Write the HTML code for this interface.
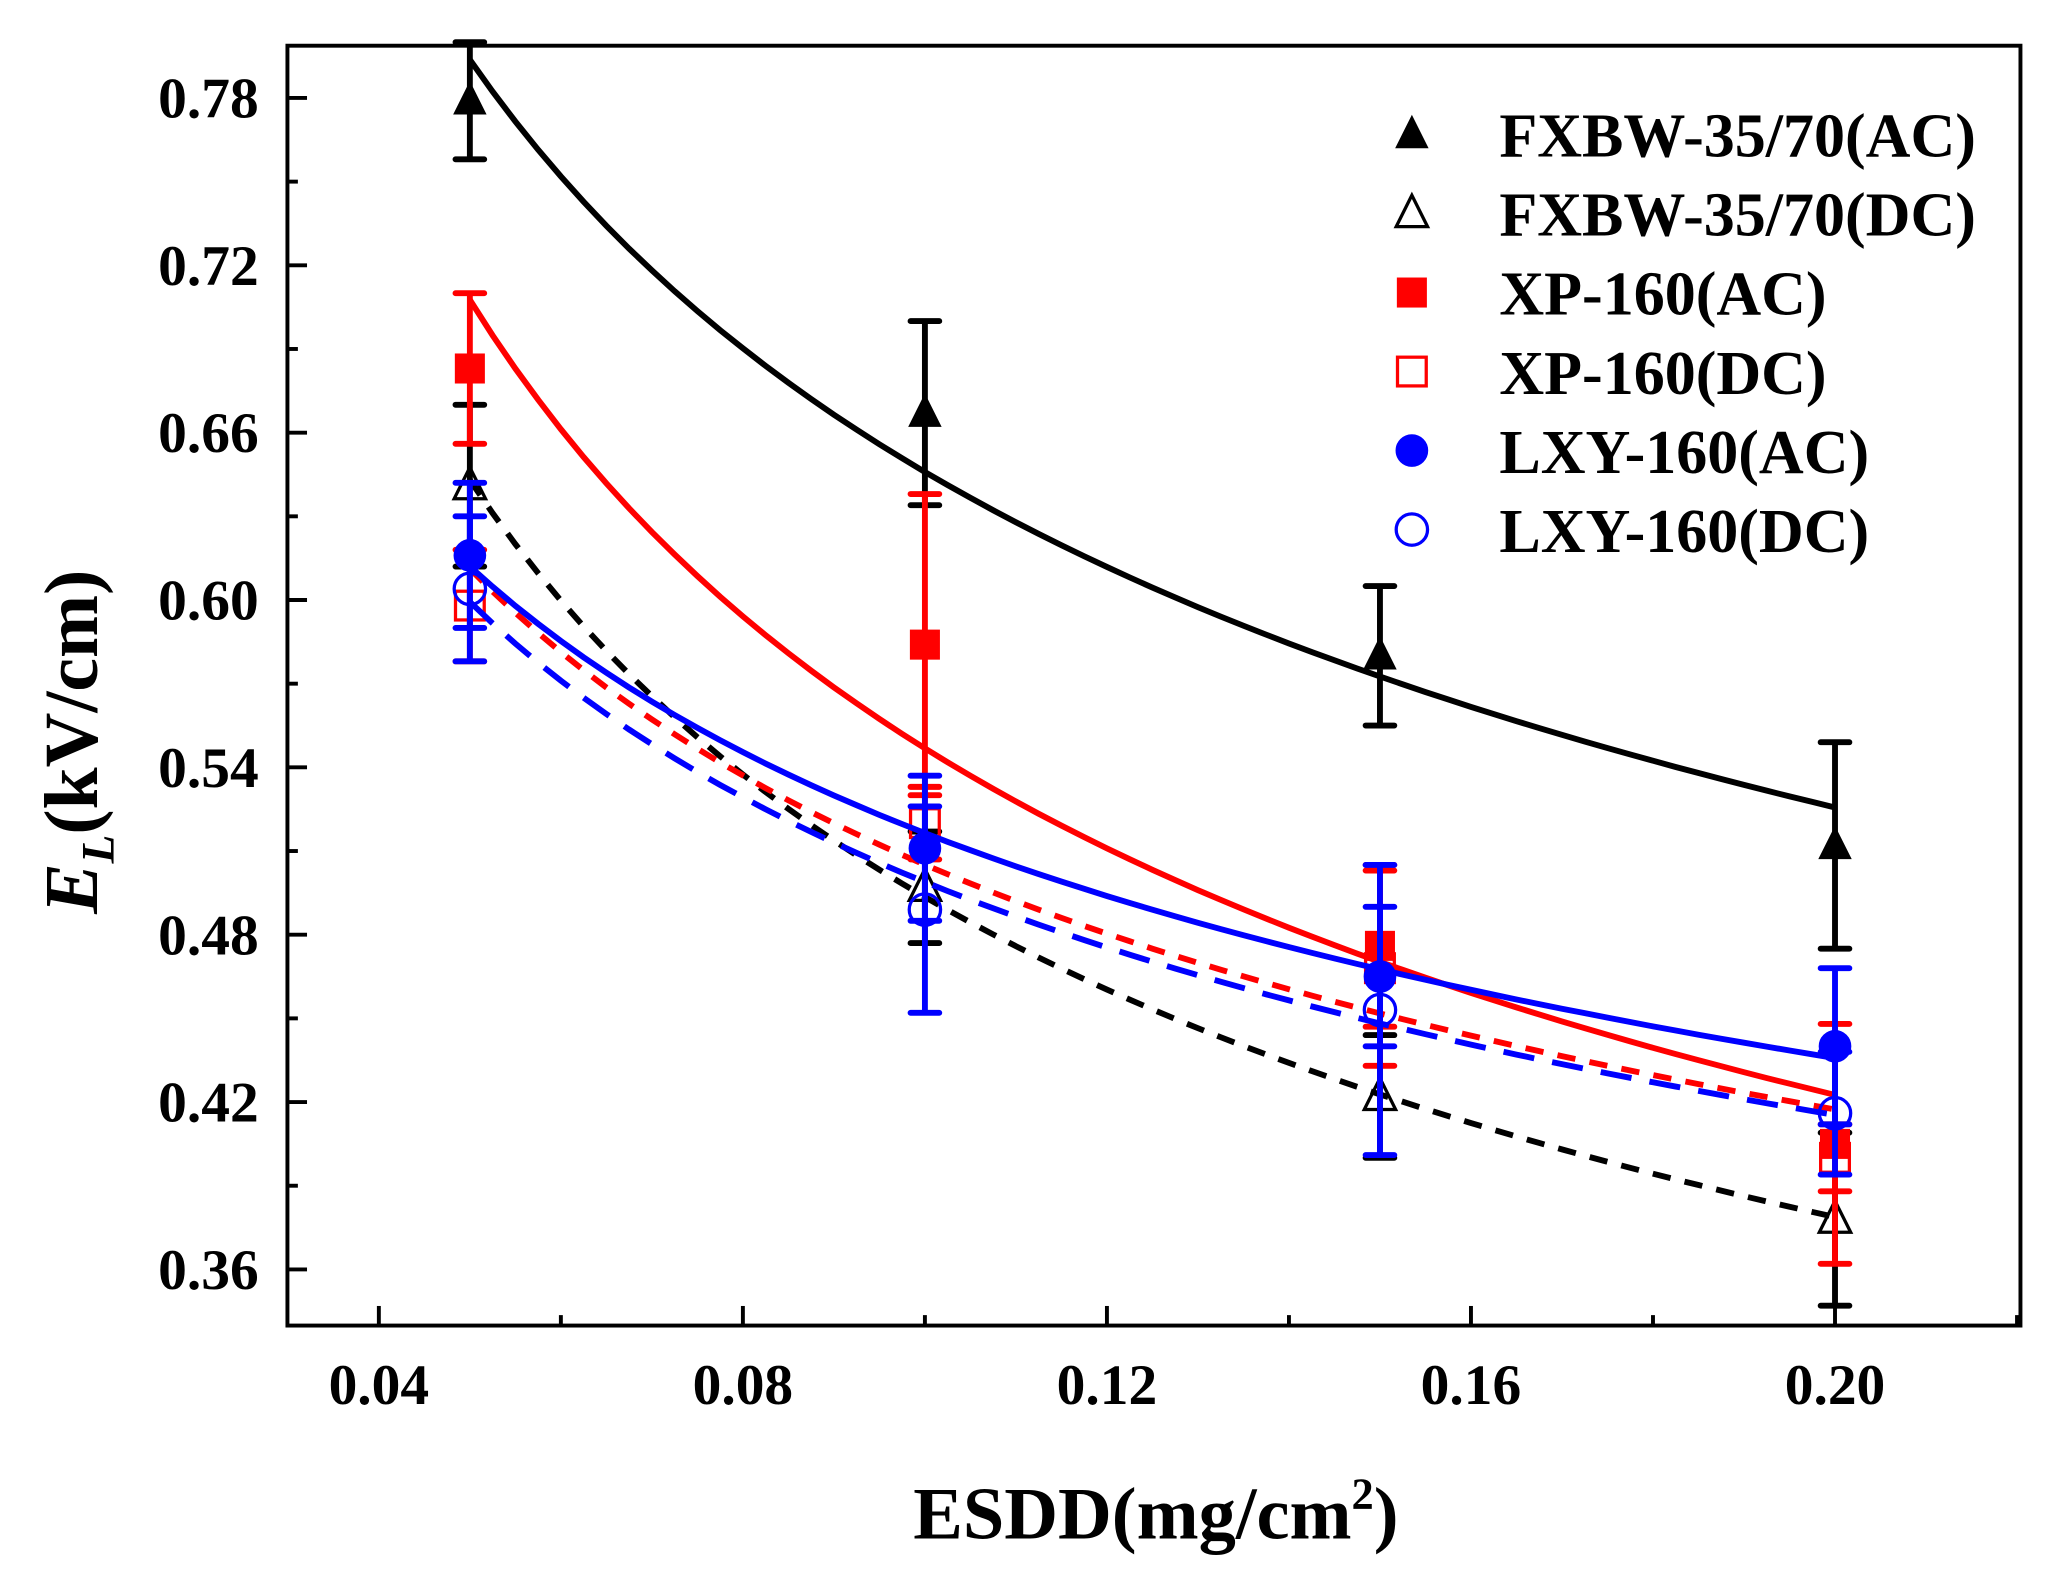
<!DOCTYPE html>
<html><head><meta charset="utf-8"><style>
html,body{margin:0;padding:0;background:#fff;}
svg{display:block;}
text{font-family:"Liberation Serif",serif;font-weight:bold;}
</style></head><body>
<svg id="chart" width="2048" height="1575" viewBox="0 0 1568 1206" xmlns="http://www.w3.org/2000/svg">
<rect x="0" y="0" width="1568" height="1206" fill="#fff"/>
<g id="axes"></g>
<g id="series"></g>
<g id="legend"></g>
</svg>
<script>
const xTicks=[0.04,0.08,0.12,0.16,0.20];
const xTickLabels=["0.04","0.08","0.12","0.16","0.20"];
const yTicks=[0.36,0.42,0.48,0.54,0.60,0.66,0.72,0.78];
const yTickLabels=["0.36","0.42","0.48","0.54","0.60","0.66","0.72","0.78"];
const esdd=[0.05,0.10,0.15,0.20];
const fxbwAC=[0.779,0.667,0.580,0.512];
const fxbwACerr=[0.021,0.033,0.025,0.037];
const fxbwDC=[0.641,0.497,0.422,0.378];
const fxbwDCerr=[0.029,0.02,0.022,0.031];
const xpAC=[0.683,0.584,0.476,0.405];
const xpACerr=[0.027,0.054,0.029,0.043];
const xpDC=[0.598,0.520,0.468,0.400];
const xpDCerr=[0.02,0.013,0.035,0.012];
const lxyAC=[0.616,0.511,0.465,0.440];
const lxyACerr=[0.026,0.026,0.025,0.028];
const lxyDC=[0.604,0.489,0.453,0.416];
const lxyDCerr=[0.026,0.037,0.052,0.022];
const seriesNames=["FXBW-35/70(AC)","FXBW-35/70(DC)","XP-160(AC)","XP-160(DC)","LXY-160(AC)","LXY-160(DC)"];

const NS="http://www.w3.org/2000/svg";
const L=220,R=1547,T=35,B=1015;
function X(v){return 290+(v-0.04)/0.16*(1405-290);}
function Y(v){return 75+(0.78-v)/0.42*(972-75);}
function mk(tag,attrs,parent){const e=document.createElementNS(NS,tag);for(const k in attrs)e.setAttribute(k,attrs[k]);parent.appendChild(e);return e;}
const axes=document.getElementById('axes'),ser=document.getElementById('series'),leg=document.getElementById('legend');

let fr=mk('rect',{x:L,y:T,width:R-L,height:B-T,fill:'none',stroke:'#000','stroke-width':3},axes);


xTicks.forEach((v,i)=>{
  let t=mk('line',{x1:X(v),x2:X(v),y1:B,y2:B-15,stroke:'#000','stroke-width':3},axes);
  
  
  let m=mk('line',{x1:X(v+0.02),x2:X(v+0.02),y1:B,y2:B-8,stroke:'#000','stroke-width':3},axes);
  
  
  let tx=mk('text',{x:X(v),y:1075,'text-anchor':'middle','font-size':44},axes);tx.textContent=xTickLabels[i];
  
  
});
yTicks.forEach((v,i)=>{
  let t=mk('line',{x1:L,x2:L+15,y1:Y(v),y2:Y(v),stroke:'#000','stroke-width':3},axes);
  
  
  let mv=v-0.03;
  if(Y(mv)<B-5){let m=mk('line',{x1:L,x2:L+8,y1:Y(mv),y2:Y(mv),stroke:'#000','stroke-width':3},axes);
  
  }
  let tx=mk('text',{x:198,y:Y(v)+15,'text-anchor':'end','font-size':44},axes);tx.textContent=yTickLabels[i];
  
  
});
let xt=mk('text',{x:885,y:1178,'text-anchor':'middle','font-size':57},axes);
xt.innerHTML='ESDD(mg/cm<tspan font-size="34" dy="-23">2</tspan><tspan dy="23">)</tspan>';


let yt=mk('text',{x:0,y:0,transform:'translate(74,568) rotate(-90)','text-anchor':'middle','font-size':58},axes);
yt.innerHTML='<tspan font-style="italic">E</tspan><tspan font-style="italic" font-size="36" dy="13">L</tspan><tspan dy="-13">(kV/cm)</tspan>';



function powfit(ys){let n=ys.length,sx=0,sy=0,sxx=0,sxy=0;
  for(let i=0;i<n;i++){const a=Math.log(esdd[i]),b=Math.log(ys[i]);sx+=a;sy+=b;sxx+=a*a;sxy+=a*b;}
  const bb=(n*sxy-sx*sy)/(n*sxx-sx*sx),aa=Math.exp((sy-bb*sx)/n);return x=>aa*Math.pow(x,bb);}

function marker(shape,color,filled,cx,cy,g){
  const s=12;let e;
  if(shape==='tri') e=mk('polygon',{points:`${cx},${cy-s-2} ${cx-s},${cy+s-2} ${cx+s},${cy+s-2}`},g);
  else if(shape==='sq') e=mk('rect',{x:cx-s+1,y:cy-s+1,width:2*s-2,height:2*s-2},g);
  else e=mk('circle',{cx:cx,cy:cy,r:s},g);
  e.setAttribute('fill',filled?color:'#fff');e.setAttribute('stroke',color);e.setAttribute('stroke-width',filled?1:2.5);
  if(!filled)e.setAttribute('fill-opacity','0');
  return e;
}
const defs=[
 {d:fxbwAC,e:fxbwACerr,c:'#000',sh:'tri',f:true,dash:null,n:'fxbw-ac'},
 {d:fxbwDC,e:fxbwDCerr,c:'#000',sh:'tri',f:false,dash:'14 11',n:'fxbw-dc'},
 {d:xpAC,e:xpACerr,c:'#f00',sh:'sq',f:true,dash:null,n:'xp-ac'},
 {d:xpDC,e:xpDCerr,c:'#f00',sh:'sq',f:false,dash:'14 11',n:'xp-dc'},
 {d:lxyAC,e:lxyACerr,c:'#00f',sh:'circ',f:true,dash:null,n:'lxy-ac'},
 {d:lxyDC,e:lxyDCerr,c:'#00f',sh:'circ',f:false,dash:'24 14',n:'lxy-dc'}
];
defs.forEach((s,si)=>{
  const g=mk('g',{},ser);
  
  
  const fn=powfit(s.d);let pts=[];
  for(let k=0;k<=60;k++){const x=0.05+0.15*k/60;pts.push(X(x).toFixed(1)+','+Y(fn(x)).toFixed(1));}
  const p=mk('polyline',{points:pts.join(' '),fill:'none',stroke:s.c,'stroke-width':4.5},g);
  if(s.dash)p.setAttribute('stroke-dasharray',s.dash);
  
  
  esdd.forEach((x,i)=>{
    const cx=X(x),y1=Y(s.d[i]+s.e[i]),y2=Y(s.d[i]-s.e[i]);
    const eb=mk('path',{d:`M${cx},${y1}V${y2}M${cx-11},${y1}H${cx+11}M${cx-11},${y2}H${cx+11}`,stroke:s.c,'stroke-width':4.5,fill:'none','stroke-linecap':'round'},g);
    
    
    const m=marker(s.sh,s.c,s.f,cx,Y(s.d[i]),g);
    
    
  });
  const ly=103+si*60.5;
  const lm=marker(s.sh,s.c,s.f,1081,ly,leg);
  
  
  const lt=mk('text',{x:1148,y:ly+17,'font-size':47.5},leg);lt.textContent=seriesNames[si];
  
  
});
</script>
</body></html>
